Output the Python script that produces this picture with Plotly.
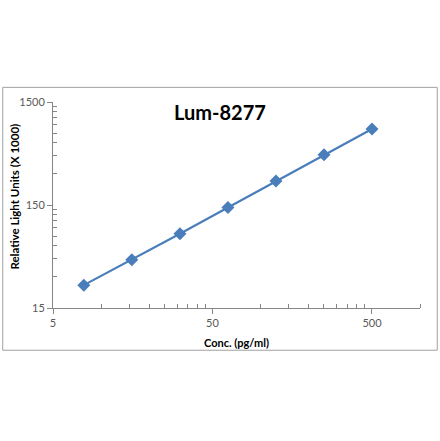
import plotly.graph_objects as go

conc = [7.8, 15.6, 31.25, 62.5, 125, 250, 500]
rlu = [25, 44, 79, 142, 256, 460, 820]
x_ticks = [5, 50, 500]
y_ticks = [15, 150, 1500]
x_minor = [5 * k for k in range(2, 10)] + [50 * k for k in range(2, 10)] + [1000]
y_minor = [15 * k for k in range(2, 10)] + [150 * k for k in range(2, 10)]

blue = "#4A7EBB"
grey_axis = "#868686"
font_family = "Lato, 'Open Sans', sans-serif"

fig = go.Figure()
fig.add_trace(go.Scatter(
    x=conc, y=rlu, mode="lines+markers",
    line=dict(color=blue, width=2.2),
    marker=dict(symbol="diamond", size=10, color=blue),
    showlegend=False,
))

# plot area: x 53..420 px, y 102..308.5 px
fig.update_layout(
    width=440, height=441,
    margin=dict(l=53, r=20, t=102, b=132.5, autoexpand=False),
    paper_bgcolor="white", plot_bgcolor="white",
    font=dict(family=font_family, size=11, color="#595959"),
    annotations=[
        dict(text="<b>Lum-8277</b>", x=0.456, y=0.95, xref="paper", yref="paper",
             showarrow=False, font=dict(size=20, color="black", family=font_family),
             xanchor="center", yanchor="middle"),
        dict(text="<b>Conc. (pg/ml)</b>", x=0.5, y=-0.167, xref="paper", yref="paper",
             showarrow=False, font=dict(size=11, color="black", family=font_family),
             xanchor="center", yanchor="middle"),
        dict(text="<b>Relative Light Units (X 1000)</b>", x=-0.104, y=0.54, xref="paper", yref="paper",
             showarrow=False, textangle=-90, font=dict(size=11.5, color="black", family=font_family),
             xanchor="center", yanchor="middle"),
    ],
    shapes=[
        dict(type="rect", xref="paper", yref="paper", x0=-0.137, x1=1.047,
             y0=-0.205, y1=1.071, line=dict(color="#A0A0A0", width=1)),
    ],
)

fig.update_xaxes(
    type="log", range=[0.69897, 3.0], automargin=False,
    tickmode="array", tickvals=x_ticks, ticktext=[str(v) for v in x_ticks],
    ticks="outside", ticklen=5, tickcolor=grey_axis,
    showline=True, linecolor=grey_axis, linewidth=1,
    showgrid=False, zeroline=False,
    minor=dict(tickmode="array", tickvals=x_minor, ticks="inside", ticklen=4,
               tickcolor=grey_axis, showgrid=False),
)
fig.update_yaxes(
    type="log", range=[1.17609, 3.17609], automargin=False,
    tickmode="array", tickvals=y_ticks, ticktext=[str(v) for v in y_ticks],
    ticks="outside", ticklen=5, tickcolor=grey_axis,
    showline=True, linecolor=grey_axis, linewidth=1,
    showgrid=False, zeroline=False,
    minor=dict(tickmode="array", tickvals=y_minor, ticks="inside", ticklen=4,
               tickcolor=grey_axis, showgrid=False),
)

fig.write_html("out.html", config={"displayModeBar": False},
               post_script="document.body.style.margin='0';")
